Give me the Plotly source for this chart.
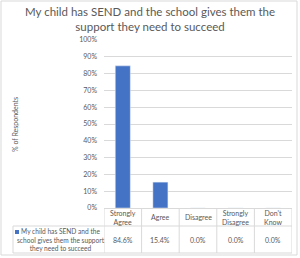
import plotly.graph_objects as go

title_lines = ["My child has SEND and the school gives them the", "support they need to succeed"]
categories = ["Strongly Agree", "Agree", "Disagree", "Strongly Disagree", "Don't Know"]
cat_labels = ["Strongly<br>Agree", "Agree", "Disagree", "Strongly<br>Disagree", "Don't<br>Know"]
values = [84.6, 15.4, 0.0, 0.0, 0.0]
series_name = "My child has SEND and the<br>school gives them the support<br>they need to succeed"
y_ticks = list(range(0, 101, 10))
y_title = "% of Respondents"

BLUE = "#4472C4"
GRID = "#d9d9d9"
TXT = "#595959"
FONT = "Lato, Liberation Sans, Arial, sans-serif"

fig = go.Figure()
fig.add_trace(go.Bar(x=categories, y=values, marker_color=BLUE, width=0.4, showlegend=False))

W, H = 300, 258
ml, mr, mt, mb = 104, 8, 40, 50
pw = W - ml - mr
ph = H - mt - mb
row1 = -18 / ph
row2 = -45 / ph


def px(x):
    return (x - ml) / pw


def py(y):
    return (208 - y) / ph


left_paper = px(13)

shapes = []
shapes.append(dict(type="line", xref="paper", yref="paper", x0=left_paper, x1=1, y0=row1, y1=row1, line=dict(color=GRID, width=1)))
shapes.append(dict(type="line", xref="paper", yref="paper", x0=left_paper, x1=1, y0=row2, y1=row2, line=dict(color=GRID, width=1)))
shapes.append(dict(type="line", xref="paper", yref="paper", x0=left_paper, x1=left_paper, y0=row1, y1=row2, line=dict(color=GRID, width=1)))
for i in range(len(categories) + 1):
    shapes.append(dict(type="line", xref="x", yref="paper", x0=i - 0.5, x1=i - 0.5, y0=0, y1=row2, line=dict(color=GRID, width=1)))
shapes.append(dict(type="rect", xref="paper", yref="paper", x0=px(15), x1=px(19),
                   y0=py(234), y1=py(230), fillcolor=BLUE, line=dict(width=0)))
shapes.append(dict(type="rect", xref="paper", yref="paper", x0=px(1), x1=px(297),
                   y0=py(255), y1=py(1), line=dict(color=GRID, width=1)))

f7 = dict(size=7, color=TXT, family=FONT)
ann = []
for c, lab, v in zip(categories, cat_labels, values):
    ann.append(dict(x=c, xref="x", y=row1 / 2, yref="paper", text=lab, showarrow=False,
                    font=f7, yanchor="middle", xanchor="center"))
    ann.append(dict(x=c, xref="x", y=(row1 + row2) / 2, yref="paper", text=f"{v:.1f}%", showarrow=False,
                    font=f7, yanchor="middle", xanchor="center"))
ann.append(dict(x=px(61), xref="paper", xanchor="center", y=(row1 + row2) / 2, yref="paper", text=series_name,
                showarrow=False, font=dict(size=6.6, color=TXT, family=FONT), yanchor="middle", align="center"))
ann.append(dict(x=px(150), xref="paper", xanchor="center", y=py(19), yref="paper", yanchor="middle",
                text="<br>".join(title_lines), showarrow=False, font=dict(size=11.5, color=TXT, family=FONT)))
ann.append(dict(x=px(15), xref="paper", xanchor="center", y=py(125), yref="paper", yanchor="middle", text=y_title,
                textangle=-90, showarrow=False, font=f7))

fig.update_layout(
    width=W, height=H, margin=dict(l=ml, r=mr, t=mt, b=mb),
    paper_bgcolor="white", plot_bgcolor="white",
    shapes=shapes, annotations=ann,
    xaxis=dict(showticklabels=False, showgrid=False, showline=True, linecolor=GRID, ticks="",
               range=[-0.5, 4.5], fixedrange=True),
    yaxis=dict(range=[0, 100], tickvals=y_ticks, ticktext=[f"{t}%" for t in y_ticks],
               gridcolor=GRID, gridwidth=1, showline=False, zeroline=False, ticks="",
               tickfont=f7, ticklabelstandoff=6),
)
fig.write_html("out.html")
